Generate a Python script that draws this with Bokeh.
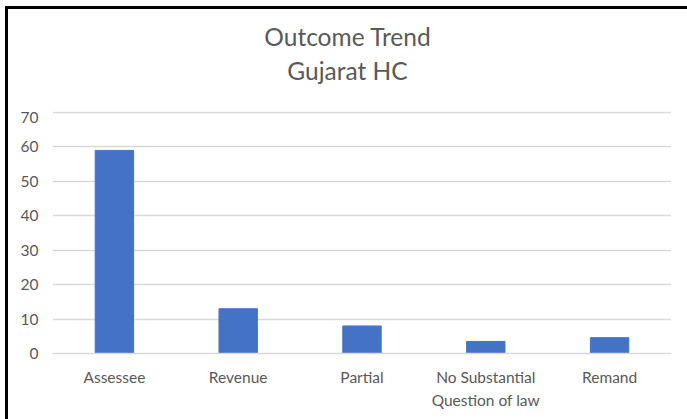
from bokeh.plotting import figure
from bokeh.models import FactorRange, Range1d, FixedTicker, ColumnDataSource, Div
from bokeh.layouts import column
from bokeh.embed import file_html
from bokeh.resources import INLINE

categories = ["Assessee", "Revenue", "Partial", "No Substantial\nQuestion of law", "Remand"]
counts = [59, 13, 8, 3.5, 4.6]
y_ticks = [0, 10, 20, 30, 40, 50, 60, 70]
title_lines = ["Outcome Trend", "Gujarat HC"]

FONT = "Lato"
TXT = "#595959"

source = ColumnDataSource(data=dict(cat=categories, val=counts))

# two centred title lines in a header block above the plot
title_html = (
    '<div style="width:679px;text-align:center;font-family:Lato;font-size:24.5px;'
    'line-height:34px;color:#595959;padding-top:11px;margin:0">'
    + "<br>".join(title_lines) + "</div>"
)
header = Div(text=title_html, width=679, height=102, margin=(0, 0, 0, 0))

p = figure(
    x_range=FactorRange(factors=categories, range_padding=0),
    y_range=Range1d(0, 70.3),
    width=679, height=308,
    output_backend="svg", toolbar_location=None,
    min_border_left=44, min_border_right=16, min_border_top=0, min_border_bottom=66,
    margin=(0, 0, 0, 0),
)
p.title.text = ""
p.title.visible = False

p.vbar(x="cat", top="val", width=0.31, source=source,
       fill_color="#4472C4", line_color="#4472C4")

p.outline_line_color = None
p.background_fill_color = "white"
p.border_fill_color = "white"

p.xgrid.grid_line_color = None
p.ygrid.grid_line_color = "#D9D9D9"
p.ygrid.grid_line_width = 1.3
p.yaxis.ticker = FixedTicker(ticks=y_ticks)

for ax in (p.xaxis, p.yaxis):
    ax.axis_line_color = None
    ax.major_tick_line_color = None
    ax.minor_tick_line_color = None
    ax.major_label_text_font = FONT
    ax.major_label_text_font_size = "15.5px"
    ax.major_label_text_color = TXT

p.xaxis.axis_line_color = "#D9D9D9"
p.xaxis.axis_line_width = 1.3
p.xaxis.major_label_standoff = 8
p.xaxis.major_label_text_baseline = "top"
p.xaxis.major_label_text_line_height = 1.3
p.yaxis.major_label_standoff = 8

layout = column(
    header, p, spacing=0,
    styles={"border-top": "3px solid black", "border-left": "3px solid black",
            "margin-left": "5px", "margin-top": "6px", "background": "white"},
)

open("out.html", "w").write(file_html(layout, INLINE))
